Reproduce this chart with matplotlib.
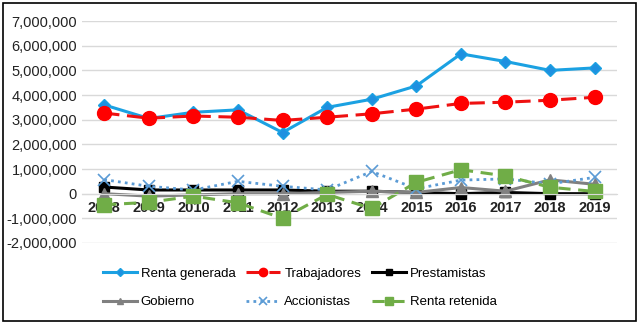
import matplotlib
matplotlib.use("Agg")
import matplotlib.pyplot as plt
from matplotlib.patches import Rectangle
from matplotlib.ticker import FuncFormatter

years = [2008, 2009, 2010, 2011, 2012, 2013, 2014, 2015, 2016, 2017, 2018, 2019]
renta_generada = [3600000, 3050000, 3300000, 3400000, 2480000, 3500000, 3830000, 4370000, 5670000, 5360000, 5000000, 5100000]
trabajadores = [3270000, 3060000, 3150000, 3100000, 2970000, 3100000, 3240000, 3430000, 3660000, 3710000, 3790000, 3910000]
prestamistas = [270000, 150000, 150000, 150000, 150000, 100000, 100000, 50000, 0, 50000, 0, 0]
gobierno = [0, -100000, -50000, 0, 0, 50000, 100000, 50000, 250000, 100000, 560000, 380000]
accionistas = [570000, 300000, 150000, 500000, 300000, 150000, 900000, 200000, 550000, 600000, 400000, 660000]
renta_retenida = [-450000, -350000, -100000, -370000, -1000000, -30000, -600000, 460000, 970000, 720000, 260000, 90000]

plt.rcParams["font.family"] = ["Liberation Sans Narrow", "Liberation Sans", "DejaVu Sans"]

fig = plt.figure(figsize=(6.4, 3.24), dpi=100)
ax = fig.add_axes([0.128, 0.25, 0.836, 0.685])

l1, = ax.plot(years, renta_generada, color="#1BA1E2", lw=2.2, marker="D", ms=6.5,
              mfc="#1E90E0", mec="#1BA1E2", label="Renta generada")
l2, = ax.plot(years, trabajadores, color="#EE1111", lw=2.2, ls=(0, (5, 2.5)), marker="o", ms=10,
              mfc="#FF0000", mec="#FF0000", label="Trabajadores")
l3, = ax.plot(years, prestamistas, color="black", lw=2.2, marker="s", ms=7,
              label="Prestamistas")
l4, = ax.plot(years, gobierno, color="#808080", lw=2.2, marker="^", ms=8,
              label="Gobierno")
l5, = ax.plot(years, accionistas, color="#5B9BD5", lw=2.0, ls=(0, (1, 1.5)), marker="x", ms=9,
              mew=1.2, label="Accionistas")
l6, = ax.plot(years, renta_retenida, color="#70AD47", lw=2.2, ls=(0, (4, 2.5)), marker="s", ms=10,
              label="Renta retenida")

ax.set_ylim(-2000000, 7000000)
ax.set_xlim(2007.5, 2019.5)
ax.set_yticks(range(-2000000, 7000001, 1000000))
ax.yaxis.set_major_formatter(FuncFormatter(lambda v, p: f"{int(v):,}"))
ax.set_xticks(years)
ax.grid(axis="y", color="#D9D9D9", lw=1)
ax.set_axisbelow(True)
for s in ["top", "right", "left"]:
    ax.spines[s].set_visible(False)
ax.spines["bottom"].set_position(("data", 0))
ax.spines["bottom"].set_color("#D9D9D9")
ax.tick_params(axis="both", length=0, labelsize=10.5, colors="#222222")
ax.tick_params(axis="x", pad=5)
for lab in ax.get_xticklabels():
    lab.set_fontweight("bold")

# column-major fill -> reorder so rows read left to right
handles = [l1, l4, l2, l5, l3, l6]
fig.legend(handles, [h.get_label() for h in handles], loc="upper left",
           bbox_to_anchor=(0.15, 0.195), ncol=3, frameon=False,
           fontsize=9.5, handlelength=2.6, columnspacing=0.8, handletextpad=0.3,
           labelspacing=1.25, markerscale=0.6, borderpad=0)

fig.add_artist(Rectangle((0.005, 0.008), 0.988, 0.984, transform=fig.transFigure,
                         fill=False, ec="black", lw=1.2))

fig.savefig("out.png", dpi=100)
